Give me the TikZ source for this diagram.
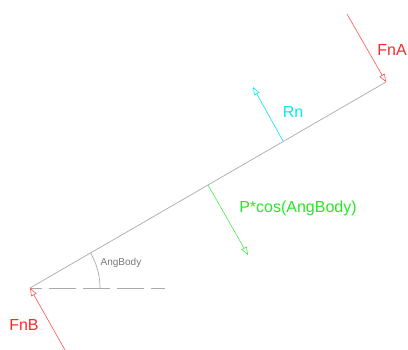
\documentclass[tikz,border=0pt]{standalone}
\usepackage{fontspec}
\setmainfont{Liberation Sans}
\usetikzlibrary{arrows.meta}
\definecolor{bodygray}{RGB}{170,170,170}
\definecolor{fnred}{RGB}{255,40,40}
\definecolor{rncyan}{RGB}{0,235,245}
\definecolor{pgreen}{RGB}{40,230,40}
\definecolor{anggray}{RGB}{120,120,120}

\begin{document}
\begin{tikzpicture}[x=1pt, y=-1pt,
body/.style={draw=bodygray, line width=0.7pt},
force/.style={line width=0.6pt, -{Triangle[open, length=8pt, width=6pt]}},
lbl/.style={inner sep=0pt, font=\fontsize{16}{18}\selectfont},
anglbl/.style={inner sep=0pt, font=\fontsize{10}{12}\selectfont, text=anggray}
]
\useasboundingbox (0,0) rectangle (408,350);

\coordinate (B) at (30,288);
\coordinate (A) at (386,82);
\coordinate (horiz) at (165,288);
\coordinate (rnbase) at (283,141);
\coordinate (rntip) at (253,87);
\coordinate (pbase) at (208,185);
\coordinate (ptip) at (248,255);
\coordinate (fnatail) at (347,14);
\coordinate (fnbtail) at (65,350);

% body and reference line
\draw[body] (B) -- (A);
\draw[body, dash pattern=on 27pt off 7pt, dash phase=15pt] (B) -- (horiz);
\draw[body] (B) ++(70,0) arc[start angle=0, end angle=-30.06, radius=70];
\node[anglbl] (ang) at (121,263) {AngBody};

% forces
\draw[force, draw=fnred!80] (fnatail) -- (A);
\draw[force, draw=fnred!80] (fnbtail) -- (B);
\draw[force, draw=rncyan] (rnbase) -- (rntip);
\draw[force, draw=pgreen!85] (pbase) -- (ptip);

\node[lbl, text=fnred] (fna) at (392,50) {FnA};
\node[lbl, text=fnred] (fnb) at (24,325) {FnB};
\node[lbl, text=rncyan] (rn) at (293,112) {Rn};
\node[lbl, text=pgreen] (pcos) at (298,208) {P*cos(AngBody)};

\end{tikzpicture}
\end{document}
